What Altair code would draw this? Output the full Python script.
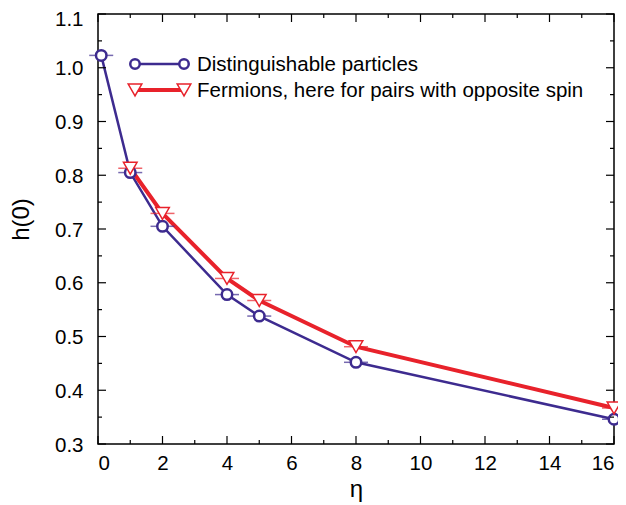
import altair as alt
import pandas as pd

# Data
eta_dist = [0.1, 1, 2, 4, 5, 8, 16]
h_dist = [1.023, 0.805, 0.705, 0.578, 0.538, 0.452, 0.346]
eta_ferm = [1, 2, 4, 5, 8, 16]
h_ferm = [0.813, 0.729, 0.608, 0.567, 0.481, 0.367]

x_major = [0, 2, 4, 6, 8, 10, 12, 14, 16]
x_minor = [1, 3, 5, 7, 9, 11, 13, 15]
y_major = [0.3, 0.4, 0.5, 0.6, 0.7, 0.8, 0.9, 1.0, 1.1]
y_minor = [0.35, 0.45, 0.55, 0.65, 0.75, 0.85, 0.95, 1.05]

label_dist = "Distinguishable particles"
label_ferm = "Fermions, here for pairs with opposite spin"

BLUE = "#3d2b8f"
RED = "#e8222b"
FONT = "Liberation Sans"
W, H = 516, 430

dist = pd.DataFrame({"x": eta_dist, "y": h_dist})
ferm = pd.DataFrame({"x": eta_ferm, "y": h_ferm})

xs = alt.Scale(domain=[0, 16], nice=False, zero=False)
ys = alt.Scale(domain=[0.3, 1.1], nice=False, zero=False)

x_axis = alt.Axis(values=x_major, ticks=False, domain=False, grid=False,
                  labelFontSize=20.5, labelFont=FONT, labelColor="black",
                  labelPadding=9, title="η", titleFontSize=24,
                  titleFont=FONT, titleFontWeight="normal", titleColor="black",
                  titlePadding=4)
y_axis = alt.Axis(values=y_major, format=".1f", ticks=False, domain=False,
                  grid=False, labelFontSize=20.5, labelFont=FONT,
                  labelColor="black", labelPadding=15,
                  labelOffset={"condition": {"test": "datum.value > 1.05", "value": 5},
                               "value": 1},
                  title="h(0)",
                  titleFontSize=24, titleFont=FONT, titleFontWeight="normal",
                  titleColor="black", titleAngle=270, titleX=-65, titleY=205)


def X(field):
    return alt.X(field, scale=xs)


def Y(field):
    return alt.Y(field, scale=ys)


# Blue series
blue_line = alt.Chart(dist).mark_line(color=BLUE, strokeWidth=2.5).encode(
    x=alt.X("x:Q", scale=xs, axis=x_axis),
    y=alt.Y("y:Q", scale=ys, axis=y_axis),
)
blue_caps = alt.Chart(dist).mark_tick(color=BLUE, orient="horizontal", size=24,
                                      thickness=1.5).encode(x=X("x:Q"), y=Y("y:Q"))
blue_pts = alt.Chart(dist).mark_point(shape="circle", color=BLUE, fill="white",
                                      filled=False, fillOpacity=1, opacity=1,
                                      size=110, strokeWidth=2.5).encode(
    x=X("x:Q"), y=Y("y:Q"))

# Red series
red_line = alt.Chart(ferm).mark_line(color=RED, strokeWidth=4).encode(
    x=X("x:Q"), y=Y("y:Q"))
red_caps = alt.Chart(ferm).mark_tick(color=RED, orient="horizontal", size=24,
                                     thickness=1.5).encode(x=X("x:Q"), y=Y("y:Q"))
red_pts = alt.Chart(ferm).mark_point(shape="triangle-down", color=RED,
                                     fill="white", filled=False, fillOpacity=1,
                                     opacity=1, size=185, strokeWidth=1.5).encode(
    x=X("x:Q"), y=Y("y:Q"))


# Inward ticks on all four sides
def xticks(vals, length):
    df = pd.DataFrame({"x": vals})
    bottom = alt.Chart(df).mark_rule(color="black", strokeWidth=1.2).encode(
        x=X("x:Q"), y=alt.value(H), y2=alt.value(H - length))
    top = alt.Chart(df).mark_rule(color="black", strokeWidth=1.2).encode(
        x=X("x:Q"), y=alt.value(0), y2=alt.value(length))
    return [bottom, top]


def yticks(vals, length):
    df = pd.DataFrame({"y": vals})
    left = alt.Chart(df).mark_rule(color="black", strokeWidth=1.2).encode(
        y=Y("y:Q"), x=alt.value(0), x2=alt.value(length))
    right = alt.Chart(df).mark_rule(color="black", strokeWidth=1.2).encode(
        y=Y("y:Q"), x=alt.value(W), x2=alt.value(W - length))
    return [left, right]


ticks = xticks(x_major, 8) + xticks(x_minor, 4) + yticks(y_major, 8) + yticks(y_minor, 4)

# Legend (drawn in plot-area pixels)
leg_df = pd.DataFrame({"label": [label_dist]})
leg_df2 = pd.DataFrame({"label": [label_ferm]})
lx1, lx2, ly1, ly2, tx = 37, 86, 50, 76, 99

leg = [
    alt.Chart(leg_df).mark_rule(color=BLUE, strokeWidth=2.5).encode(
        x=alt.value(lx1), x2=alt.value(lx2), y=alt.value(ly1)),
    alt.Chart(pd.DataFrame({"p": [lx1, lx2]})).mark_point(
        shape="circle", color=BLUE, fill="white", filled=False, fillOpacity=1,
        opacity=1, size=90, strokeWidth=2.5).encode(
        x=alt.X("p:Q", scale=None), y=alt.value(ly1)),
    alt.Chart(leg_df).mark_text(align="left", baseline="middle", fontSize=20.5,
                                font=FONT, color="black").encode(
        x=alt.value(tx), y=alt.value(ly1 + 1), text="label:N"),
    alt.Chart(leg_df2).mark_rule(color=RED, strokeWidth=4).encode(
        x=alt.value(lx1), x2=alt.value(lx2), y=alt.value(ly2)),
    alt.Chart(pd.DataFrame({"p": [lx1, lx2]})).mark_point(
        shape="triangle-down", color=RED, fill="white", filled=False,
        fillOpacity=1, opacity=1, size=185, strokeWidth=1.5).encode(
        x=alt.X("p:Q", scale=None), y=alt.value(ly2)),
    alt.Chart(leg_df2).mark_text(align="left", baseline="middle", fontSize=20.5,
                                 font=FONT, color="black").encode(
        x=alt.value(tx), y=alt.value(ly2 + 1), text="label:N"),
]

chart = alt.layer(
    blue_line, red_line, blue_caps, red_caps, blue_pts, red_pts, *ticks, *leg
).properties(
    width=W, height=H,
    autosize=alt.AutoSizeParams(type="none"),
    padding={"left": 90, "top": 6, "right": 4, "bottom": 61},
    background="white",
).configure_view(stroke="black", strokeWidth=1.5)

chart.save("out.html", embed_options={"renderer": "svg", "actions": False})
